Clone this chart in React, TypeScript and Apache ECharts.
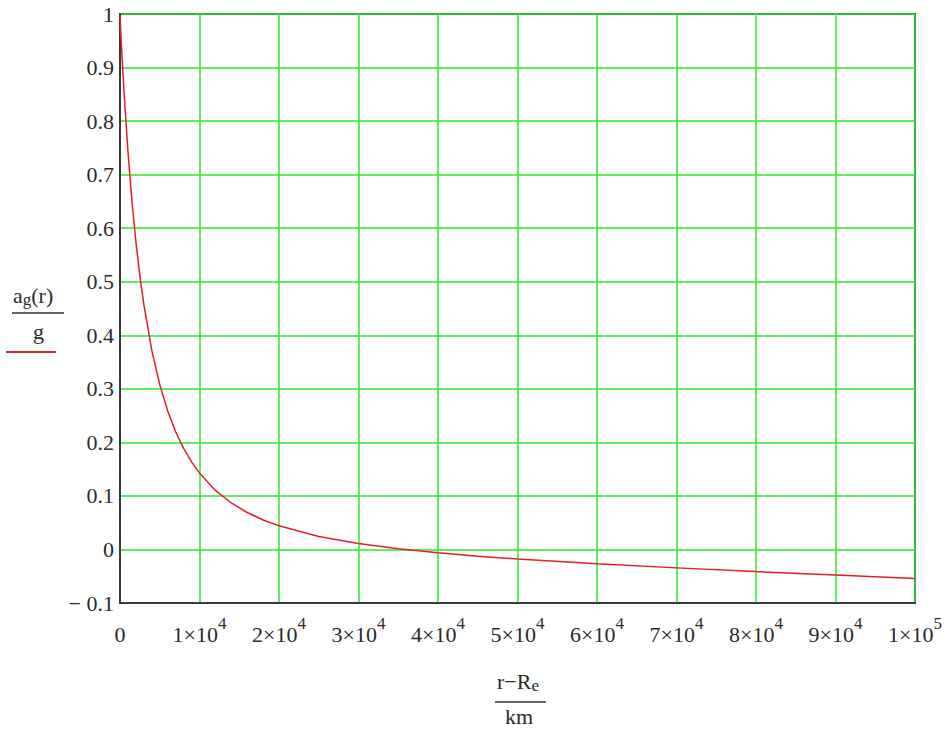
import React, { useEffect, useRef } from "react";
import * as echarts from "echarts";

// Altitude above Earth's surface, r − Re, in km
const altitudeKm = [
  0, 100, 250, 500, 1000, 1500, 2000, 2500, 3000, 4000, 5000, 6000, 7000, 8000, 9000,
  10000, 12000, 14000, 16000, 18000, 20000, 25000, 30000, 35000, 40000, 45000, 50000,
  60000, 70000, 80000, 90000, 100000,
];
// a_g(r) / g
const accelRatio = [
  0.9965, 0.9658, 0.9223, 0.856, 0.7431, 0.6509, 0.5747, 0.511, 0.4571, 0.3718, 0.3078,
  0.2585, 0.2198, 0.1888, 0.1635, 0.1426, 0.1103, 0.0868, 0.069, 0.0551, 0.0441, 0.0242,
  0.011, 0.0013, -0.0063, -0.0125, -0.0178, -0.0268, -0.0344, -0.0414, -0.0479, -0.0541,
];
// x tick mantissas / exponents
const xTickMantissa = ["0", "1", "2", "3", "4", "5", "6", "7", "8", "9", "1"];
const xTickExponent = ["", "4", "4", "4", "4", "4", "4", "4", "4", "4", "5"];

const SERIF = "Liberation Serif";
const TXT = "#2a2a2a";
const GREEN = "#2ee82e";
const RED = "#e61e24";

export default function App() {
  const ref = useRef<HTMLDivElement>(null);
  useEffect(() => {
    document.body.style.margin = "0";
    const chart = echarts.init(ref.current!, null, { renderer: "svg" });
    const data = altitudeKm.map((x, i) => [x, accelRatio[i]]);
    chart.setOption({
      animation: false,
      backgroundColor: "#ffffff",
      textStyle: { fontFamily: SERIF },
      grid: {
        left: 120,
        right: 36,
        top: 14,
        bottom: 126,
        show: true,
        borderColor: "#3a3a3a",
        borderWidth: 2,
        backgroundColor: "transparent",
      },
      xAxis: {
        type: "value",
        min: 0,
        max: 100000,
        interval: 10000,
        axisLine: { show: true, onZero: false, lineStyle: { color: "#3a3a3a", width: 2 } },
        axisTick: { show: false },
        splitLine: { show: true, lineStyle: { color: GREEN, width: 1.5 } },
        axisLabel: {
          margin: 12,
          fontFamily: SERIF,
          formatter: (v: number) => {
            const i = Math.round(v / 10000);
            if (i === 0) return "{b|0}";
            return `{b|${xTickMantissa[i]}×10}{s|${xTickExponent[i]}}`;
          },
          rich: {
            b: { fontFamily: SERIF, fontSize: 22, color: TXT, verticalAlign: "bottom", lineHeight: 30 },
            s: { fontFamily: SERIF, fontSize: 17, color: TXT, verticalAlign: "top", lineHeight: 18 },
          },
        },
      },
      yAxis: {
        type: "value",
        min: -0.1,
        max: 1,
        interval: 0.1,
        axisLine: { show: true, onZero: false, lineStyle: { color: "#3a3a3a", width: 2 } },
        axisTick: { show: false },
        splitLine: { show: true, lineStyle: { color: GREEN, width: 1.5 } },
        axisLabel: {
          margin: 6,
          fontFamily: SERIF,
          fontSize: 22,
          color: TXT,
          formatter: (v: number) => {
            const r = Number(v.toFixed(1));
            if (r < 0) return "− " + Math.abs(r).toString();
            return r.toString();
          },
        },
      },
      series: [
        {
          type: "line",
          data,
          showSymbol: false,
          symbol: "none",
          smooth: false,
          lineStyle: { color: RED, width: 1.5 },
          z: 5,
        },
      ],
      graphic: [
        {
          type: "text",
          left: 13,
          top: 281,
          style: {
            text: "{a|a}{sub|g}{a|(r)}",
            rich: {
              a: { fontFamily: SERIF, fontSize: 22, fill: TXT, verticalAlign: "top", lineHeight: 24 },
              sub: { fontFamily: SERIF, fontSize: 17, fill: TXT, verticalAlign: "bottom", lineHeight: 18, padding: [10, 0, 0, 0] },
            },
          },
        },
        {
          type: "line",
          shape: { x1: 12, y1: 313, x2: 64, y2: 313 },
          style: { stroke: "#333", lineWidth: 1.5 },
        },
        {
          type: "text",
          left: 33,
          top: 320,
          style: { text: "g", fontFamily: SERIF, fontSize: 22, fill: TXT },
        },
        {
          type: "line",
          shape: { x1: 6, y1: 352, x2: 56, y2: 352 },
          style: { stroke: RED, lineWidth: 2 },
        },
        {
          type: "text",
          left: 497,
          top: 667,
          style: {
            text: "{a|r−R}{sub|e}",
            rich: {
              a: { fontFamily: SERIF, fontSize: 22, fill: TXT, verticalAlign: "top", lineHeight: 24 },
              sub: { fontFamily: SERIF, fontSize: 17, fill: TXT, verticalAlign: "bottom", lineHeight: 18, padding: [10, 0, 0, 0] },
            },
          },
        },
        {
          type: "line",
          shape: { x1: 495, y1: 702, x2: 546, y2: 702 },
          style: { stroke: "#333", lineWidth: 1.5 },
        },
        {
          type: "text",
          left: 505,
          top: 705,
          style: { text: "km", fontFamily: SERIF, fontSize: 22, fill: TXT },
        },
      ],
    });
    return () => chart.dispose();
  }, []);
  return <div ref={ref} style={{ width: 951, height: 729 }} />;
}
